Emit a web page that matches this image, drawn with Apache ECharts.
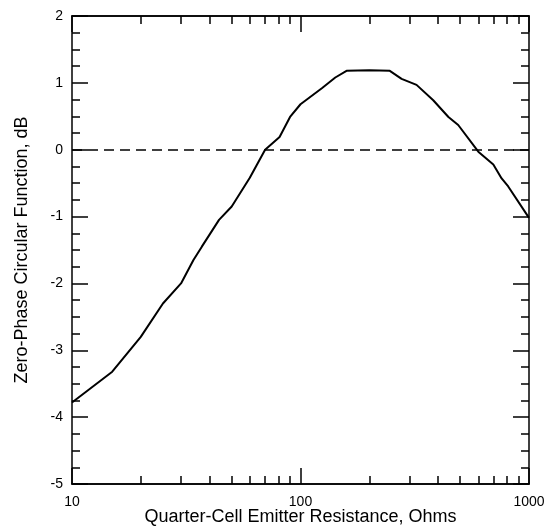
<!DOCTYPE html>
<html>
<head>
<meta charset="utf-8">
<script src="https://cdn.jsdelivr.net/npm/echarts@6/dist/echarts.min.js"></script>
<style>
  html, body { margin: 0; padding: 0; background: #fff; }
  #chart { width: 546px; height: 529px; }
</style>
</head>
<body>
<div id="chart"></div>
<script>
// resistance (ohms) and response (dB)
const resistance = [10, 15, 20, 25, 30, 34, 37, 44, 50, 60, 70, 81, 90, 100, 124, 142, 159, 200, 246, 277, 322, 381, 444, 490, 600, 698, 759, 811, 1000];
const response = [-3.78, -3.32, -2.8, -2.3, -2.0, -1.65, -1.45, -1.05, -0.85, -0.42, 0, 0.19, 0.49, 0.68, 0.92, 1.08, 1.18, 1.19, 1.18, 1.06, 0.97, 0.74, 0.49, 0.37, -0.03, -0.22, -0.43, -0.55, -1.02];
const majorX = [10, 100, 1000];
const minorX = [20, 30, 40, 50, 60, 70, 80, 90, 200, 300, 400, 500, 600, 700, 800, 900];

const font = "Liberation Sans, Arial, sans-serif";
const chart = echarts.init(document.getElementById("chart"));

// log x axis, one copy per tick length and side
const xAxisBase = (position, ticks, len, labels) => ({
  type: "log",
  logBase: 10,
  min: 10,
  max: 1000,
  position,
  axisLine: { show: true, onZero: false, lineStyle: { color: "#000", width: 1.5 } },
  axisTick: { show: true, inside: true, length: len, customValues: ticks, lineStyle: { color: "#000", width: 1.5 } },
  axisLabel: labels
    ? { show: true, customValues: majorX, formatter: (v) => String(v), color: "#000", fontFamily: font, fontSize: 14, margin: 11 }
    : { show: false },
  splitLine: { show: false },
  minorTick: { show: false },
});

const yAxisBase = (position, labels) => ({
  type: "value",
  min: -5,
  max: 2,
  interval: 1,
  position,
  axisLine: { show: true, onZero: false, lineStyle: { color: "#000", width: 1.5 } },
  axisTick: { show: true, inside: true, length: 16, lineStyle: { color: "#000", width: 1.5 } },
  minorTick: { show: true, splitNumber: 4, length: 8, lineStyle: { color: "#000", width: 1.5 } },
  axisLabel: labels
    ? { show: true, color: "#000", fontFamily: font, fontSize: 14, margin: 9 }
    : { show: false },
  splitLine: { show: false },
  minorSplitLine: { show: false },
});

const xMain = xAxisBase("bottom", majorX, 16, true);
xMain.name = "Quarter-Cell Emitter Resistance, Ohms";
xMain.nameLocation = "middle";
xMain.nameGap = 24;
xMain.nameMoveOverlap = false;
xMain.nameTextStyle = { color: "#000", fontFamily: font, fontSize: 18 };

const yMain = yAxisBase("left", true);
yMain.name = "Zero-Phase Circular Function, dB";
yMain.nameLocation = "middle";
yMain.nameGap = 41;
yMain.nameMoveOverlap = false;
yMain.nameTextStyle = { color: "#000", fontFamily: font, fontSize: 18 };

const option = {
  animation: false,
  backgroundColor: "#fff",
  grid: { left: 72, right: 17, top: 16, bottom: 45, containLabel: false, outerBoundsMode: "none" },
  xAxis: [
    xMain,
    xAxisBase("bottom", minorX, 8, false),
    xAxisBase("top", majorX, 16, false),
    xAxisBase("top", minorX, 8, false),
  ],
  yAxis: [yMain, yAxisBase("right", false)],
  series: [
    {
      type: "line",
      xAxisIndex: 0,
      yAxisIndex: 0,
      data: resistance.map((r, i) => [r, response[i]]),
      showSymbol: false,
      lineStyle: { color: "#000", width: 2 },
      markLine: {
        silent: true,
        symbol: "none",
        label: { show: false },
        lineStyle: { color: "#000", width: 1.5, type: [10, 6] },
        data: [{ yAxis: 0 }],
      },
    },
  ],
};
chart.setOption(option);
</script>
</body>
</html>
